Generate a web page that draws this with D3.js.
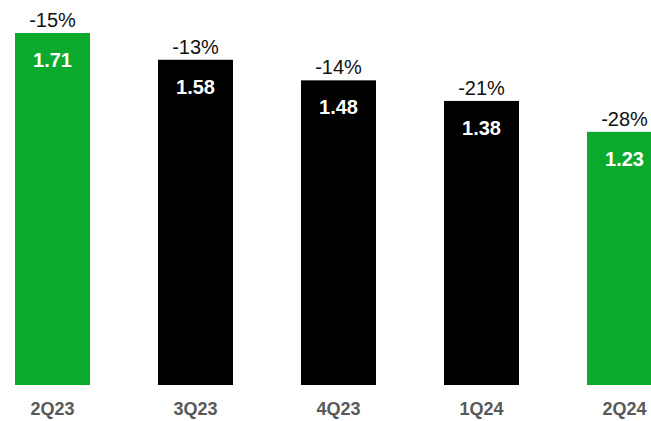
<!DOCTYPE html>
<html>
<head>
<meta charset="utf-8">
<script src="https://cdn.jsdelivr.net/npm/d3@7"></script>
<style>
  html, body { margin: 0; padding: 0; background: #fff; }
  #chart { width: 651px; height: 421px; overflow: hidden; }
  text { font-family: Arial, "Liberation Sans", sans-serif; }
</style>
</head>
<body>
<div id="chart"></div>
<script>
// Quarterly values, with % change labels above each bar
const quarters = ["2Q23", "3Q23", "4Q23", "1Q24", "2Q24"];
const values = [1.71, 1.58, 1.48, 1.38, 1.23];
const changes = ["-15%", "-13%", "-14%", "-21%", "-28%"];
const highlight = ["2Q23", "2Q24"];

(() => {
    const W = 651, H = 421;
    const svg = d3.select("#chart").append("svg").attr("width", W).attr("height", H);

    const data = quarters.map((q, i) => ({ q, v: values[i], chg: changes[i] }));

    const x = d3.scaleBand().domain(quarters).range([15, 662]).paddingInner(68 / 143).paddingOuter(0);
    const y = d3.scaleLinear().domain([0, d3.max(values)]).range([385, 33]);

    const green = "#0aaa2e";

    const g = svg.selectAll("g.bar").data(data).join("g").attr("class", "bar");

    g.append("rect")
        .attr("x", d => x(d.q))
        .attr("y", d => y(d.v))
        .attr("width", x.bandwidth())
        .attr("height", d => y(0) - y(d.v))
        .attr("fill", d => highlight.includes(d.q) ? green : "#000");

    // value inside bar
    g.append("text")
        .attr("x", d => x(d.q) + x.bandwidth() / 2)
        .attr("y", d => y(d.v) + 34)
        .attr("text-anchor", "middle")
        .attr("fill", "#fff")
        .attr("font-weight", "bold")
        .attr("font-size", 20)
        .text(d => d.v.toFixed(2));

    // % change above bar
    g.append("text")
        .attr("x", d => x(d.q) + x.bandwidth() / 2)
        .attr("y", d => y(d.v) - 6)
        .attr("text-anchor", "middle")
        .attr("fill", "#111")
        .attr("font-size", 20)
        .text(d => d.chg);

    // category labels
    svg.append("g").selectAll("text").data(quarters).join("text")
        .attr("x", d => x(d) + x.bandwidth() / 2)
        .attr("y", 415)
        .attr("text-anchor", "middle")
        .attr("fill", "#595959")
        .attr("font-weight", "bold")
        .attr("font-size", 18)
        .text(d => d);
})();
</script>
</body>
</html>
